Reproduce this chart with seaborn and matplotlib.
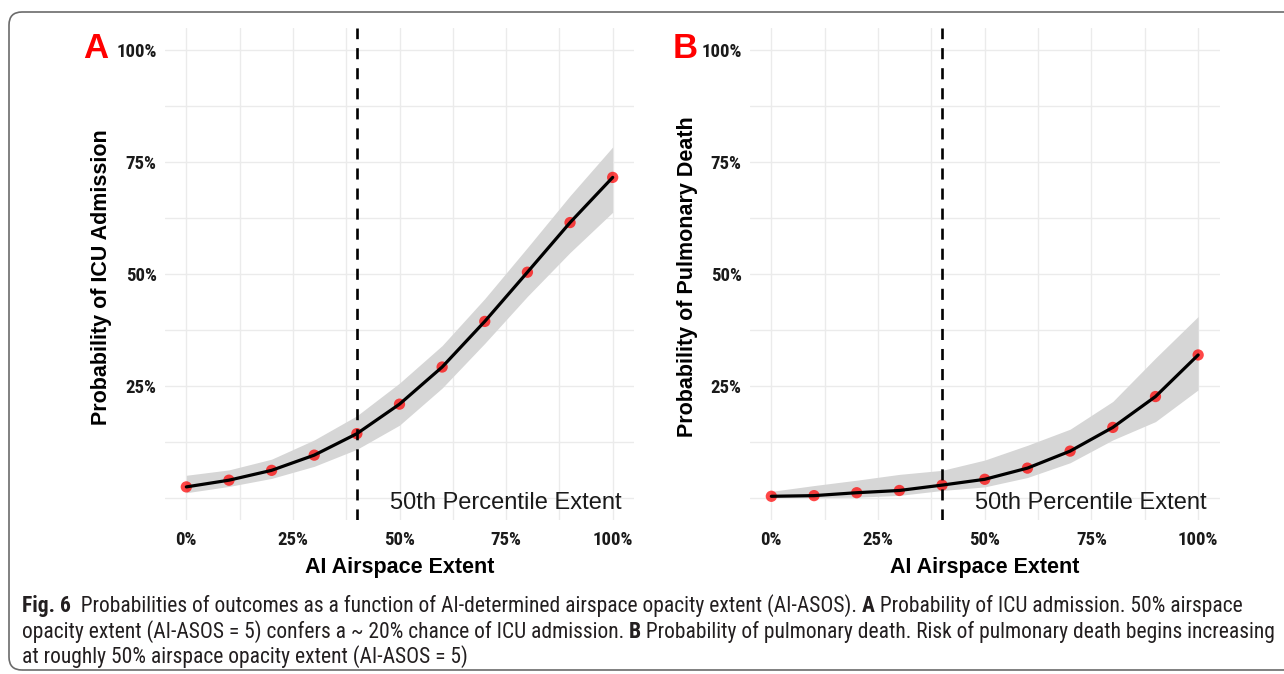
import numpy as np
import pandas as pd
import seaborn as sns
import matplotlib
matplotlib.use("Agg")
import matplotlib.pyplot as plt
import matplotlib.font_manager as fm
from matplotlib.patches import FancyBboxPatch
from matplotlib.ticker import FixedLocator, FixedFormatter

# ---------------- data ----------------
extent = [0.0, 0.1, 0.2, 0.3, 0.4, 0.5, 0.6, 0.7, 0.8, 0.9, 1.0]

icu_prob = [0.024, 0.039, 0.061, 0.095, 0.143, 0.209, 0.292, 0.394, 0.504, 0.615, 0.716]
icu_low = [0.011, 0.025, 0.043, 0.070, 0.108, 0.162, 0.245, 0.345, 0.450, 0.548, 0.638]
icu_high = [0.050, 0.062, 0.086, 0.129, 0.183, 0.256, 0.340, 0.445, 0.559, 0.675, 0.784]

pulm_prob = [0.003, 0.0045, 0.011, 0.016, 0.028, 0.041, 0.066, 0.104, 0.157, 0.226, 0.319]
pulm_low = [0.000, 0.000, 0.001, 0.005, 0.016, 0.024, 0.045, 0.078, 0.129, 0.170, 0.241]
pulm_high = [0.014, 0.027, 0.039, 0.052, 0.061, 0.084, 0.117, 0.153, 0.215, 0.312, 0.405]

median_extent = 0.40

x_ticks = [0.0, 0.25, 0.5, 0.75, 1.0]
x_tick_labels = ["0%", "25%", "50%", "75%", "100%"]
y_ticks = [0.25, 0.5, 0.75, 1.0]
y_tick_labels = ["25%", "50%", "75%", "100%"]
x_minor = [0.125, 0.375, 0.625, 0.875]
y_minor = [0.0, 0.125, 0.375, 0.625, 0.875]

panel_letters = ["A", "B"]
y_titles = ["Probability of ICU Admission", "Probability of Pulmonary Death"]
x_title = "AI Airspace Extent"
annot = "50th Percentile Extent"

caption_lines = [
    [("Fig. 6", "bold"),
     ("  Probabilities of outcomes as a function of AI-determined airspace opacity extent (AI-ASOS). ", "normal"),
     ("A", "bold"),
     (" Probability of ICU admission. 50% airspace", "normal")],
    [("opacity extent (AI-ASOS = 5) confers a ~ 20% chance of ICU admission. ", "normal"),
     ("B", "bold"),
     (" Probability of pulmonary death. Risk of pulmonary death begins increasing", "normal")],
    [("at roughly 50% airspace opacity extent (AI-ASOS = 5)", "normal")],
]

# ---------------- fonts ----------------
sns.set_theme(style="white")
names = {f.name for f in fm.fontManager.ttflist}


def pick(*cands):
    for c in cands:
        if c in names:
            return c
    return "DejaVu Sans"


narrow = pick("Liberation Sans Narrow", "Roboto Condensed", "Arial Narrow", "DejaVu Sans")
arial = pick("Liberation Sans", "Arimo", "Arial", "DejaVu Sans")
plt.rcParams["font.family"] = [arial, "DejaVu Sans"]

W, H = 1284, 674
fig = plt.figure(figsize=(W / 100, H / 100), dpi=100)
fig.patch.set_facecolor("white")


def px_axes(left, top, right, bottom):
    return fig.add_axes([left / W, 1 - bottom / H, (right - left) / W, (bottom - top) / H])


axes = [px_axes(165, 28, 634, 520), px_axes(750, 28, 1219.5, 520)]
series = [(icu_prob, icu_low, icu_high), (pulm_prob, pulm_low, pulm_high)]
grid_c = "#EBEBEB"

for ax, (prob, lo, hi), ytitle in zip(axes, series, y_titles):
    df = pd.DataFrame({"extent": extent, "prob": prob, "low": lo, "high": hi})
    ax.set_facecolor("white")
    ax.set_xlim(-0.05, 1.05)
    ax.set_ylim(-0.05, 1.05)
    # grid
    ax.xaxis.set_major_locator(FixedLocator(x_ticks))
    ax.xaxis.set_major_formatter(FixedFormatter(x_tick_labels))
    ax.yaxis.set_major_locator(FixedLocator(y_ticks))
    ax.yaxis.set_major_formatter(FixedFormatter(y_tick_labels))
    ax.xaxis.set_minor_locator(FixedLocator(x_minor))
    ax.yaxis.set_minor_locator(FixedLocator(y_minor))
    ax.grid(True, which="both", color=grid_c, linewidth=1.0)
    ax.set_axisbelow(True)
    for s in ax.spines.values():
        s.set_visible(False)
    ax.tick_params(which="both", length=0)
    ax.tick_params(axis="x", pad=8)
    ax.tick_params(axis="y", pad=6)
    for lab in ax.get_xticklabels() + ax.get_yticklabels():
        lab.set_fontfamily([narrow, "DejaVu Sans"])
        lab.set_fontweight("bold")
        lab.set_fontsize(13.5)
        lab.set_color("#1a1a1a")

    # confidence band
    ax.fill_between(df["extent"], df["low"], df["high"], color="#D6D6D6", linewidth=0, zorder=2)
    # points and fitted curve
    sns.scatterplot(data=df, x="extent", y="prob", ax=ax, color="#FF0000", alpha=0.72,
                    s=66, edgecolor="none", zorder=3, legend=False)
    sns.lineplot(data=df, x="extent", y="prob", ax=ax, color="black", linewidth=2.3,
                 zorder=4, legend=False)
    ax.axvline(median_extent, color="black", linewidth=1.9, dashes=(4.2, 3.4), zorder=5)
    ax.text(1.02, -0.026, annot, ha="right", va="baseline", fontsize=17,
            color="#1a1a1a", zorder=6)

    ax.set_xlabel(x_title, fontsize=15.5, fontweight="bold", color="black")
    ax.set_ylabel(ytitle, fontsize=15.5, fontweight="bold", color="black")
    ax.xaxis.set_label_coords(0.5, (520 - 568) / 492)
    ax.xaxis.label.set_va("center")
    ax.yaxis.label.set_va("center")

axes[0].yaxis.set_label_coords((102 - 165) / 469, (520 - 277) / 492)
axes[1].yaxis.set_label_coords((688 - 750) / 469.5, (520 - 277) / 492)

# panel letters
for letter, xpx in zip(panel_letters, [96, 685]):
    fig.text(xpx / W, 1 - 48 / H, letter, color="#FF0000", fontsize=25, fontweight="bold",
             ha="center", va="center")

# border box
box = FancyBboxPatch((9 / 100, (H - 670) / 100), (1310 - 9) / 100, (670 - 12) / 100,
                     boxstyle="round,pad=0,rounding_size=0.13",
                     transform=fig.dpi_scale_trans, fill=False,
                     edgecolor="#6b6b6b", linewidth=1.2)
fig.patches.append(box)

# caption
cap_family = [narrow, "DejaVu Sans"]
renderer = fig.canvas.get_renderer()


def run_width(s, weight, size):
    t1 = fig.text(0, 0, s + "|", fontsize=size, fontweight=weight, family=cap_family)
    t2 = fig.text(0, 0, "|", fontsize=size, fontweight=weight, family=cap_family)
    w = t1.get_window_extent(renderer).width - t2.get_window_extent(renderer).width
    t1.remove()
    t2.remove()
    return w


ref_size = 10
w1 = sum(run_width(s, wt, ref_size) for s, wt in caption_lines[0])
w2 = sum(run_width(s, wt, ref_size) for s, wt in caption_lines[1])
cap_size = ref_size * ((1237 - 22) + (1276 - 22)) / (w1 + w2)

for line, ybase in zip(caption_lines, [612, 638, 663]):
    x = 22.0
    for s, wt in line:
        fig.text(x / W, 1 - ybase / H, s, fontsize=cap_size, fontweight=wt, family=cap_family,
                 ha="left", va="baseline", color="#231F20")
        x += run_width(s, wt, cap_size)

fig.savefig("out.png", dpi=100, facecolor="white")
